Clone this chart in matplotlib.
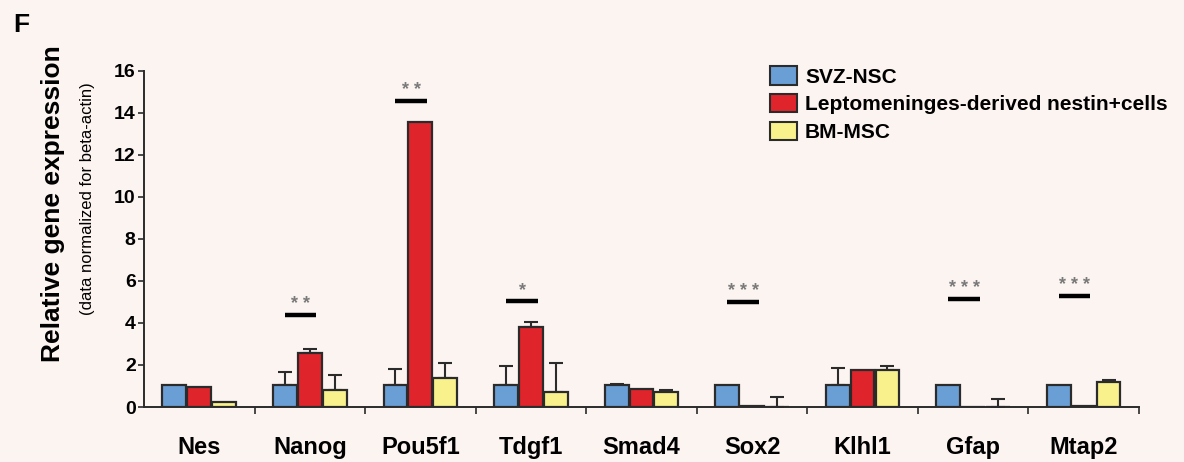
import numpy as np
import matplotlib.pyplot as plt
from matplotlib.patches import Patch

genes = ["Nes", "Nanog", "Pou5f1", "Tdgf1", "Smad4", "Sox2", "Klhl1", "Gfap", "Mtap2"]
series = ["SVZ-NSC", "Leptomeninges-derived nestin+cells", "BM-MSC"]

svz = [1.03, 1.03, 1.03, 1.03, 1.03, 1.03, 1.03, 1.03, 1.03]
svz_err = [0.0, 0.65, 0.77, 0.92, 0.07, 0.0, 0.84, 0.0, 0.0]
lepto = [0.95, 2.58, 13.58, 3.8, 0.86, 0.03, 1.76, 0.02, 0.03]
lepto_err = [0.0, 0.17, 0.0, 0.25, 0.0, 0.0, 0.0, 0.0, 0.0]
bm = [0.22, 0.8, 1.37, 0.72, 0.72, 0.0, 1.76, 0.0, 1.18]
bm_err = [0.0, 0.72, 0.71, 1.38, 0.08, 0.5, 0.19, 0.4, 0.1]

# significance bars: gene index, height, stars
sig_idx = [1, 2, 3, 5, 7, 8]
sig_y = [4.38, 14.55, 5.05, 5.0, 5.14, 5.28]
sig_stars = ["**", "**", "*", "***", "***", "***"]

colors = ["#6a9fd6", "#e0242c", "#f8f18c"]
edge = "#2b2b2b"
bg = "#fcf4f1"

plt.rc('font', family=['Liberation Sans', 'DejaVu Sans'], weight='bold')

fig = plt.figure(figsize=(11.84, 4.62), dpi=100, facecolor=bg)
ax = fig.add_axes([0.1216, 0.119, 0.8404, 0.728])
ax.set_facecolor(bg)

x = np.arange(len(genes))
w = 0.215
for k, (vals, errs) in enumerate([(svz, svz_err), (lepto, lepto_err), (bm, bm_err)]):
    pos = x + (k - 1) * (w + 0.01)
    ax.bar(pos, vals, w, color=colors[k], edgecolor=edge, linewidth=1.6, zorder=2)
    e = np.array(errs)
    m = e > 0
    ax.errorbar(pos[m], np.array(vals)[m], yerr=[np.zeros(m.sum()), e[m]], fmt='none',
                ecolor=edge, elinewidth=1.5, capsize=5, capthick=1.5, zorder=1)

for i, yv, s in zip(sig_idx, sig_y, sig_stars):
    ax.plot([i - 0.225, i + 0.06], [yv, yv], color='black', lw=3.2, solid_capstyle='butt', zorder=3)
    ax.text(i - 0.08, yv + 0.1, " ".join(s), ha='center', va='bottom', fontsize=13,
            color='#7a7a7a', zorder=3)

ax.set_xlim(-0.5, 8.5)
ax.set_ylim(0, 16)
ax.set_yticks(range(0, 17, 2))
ax.tick_params(axis='y', labelsize=14, length=4, width=1.2, color=edge, pad=2)
ax.set_xticks(x)
ax.set_xticklabels(genes, fontsize=17)
ax.tick_params(axis='x', length=0, pad=21)
ax.set_xticks(np.arange(0.5, 8.6, 1), minor=True)
ax.tick_params(axis='x', which='minor', length=5, width=1.2, color=edge, direction='out')
for sp in ['top', 'right']:
    ax.spines[sp].set_visible(False)
for sp in ['left', 'bottom']:
    ax.spines[sp].set_linewidth(1.4)
    ax.spines[sp].set_color(edge)

fig.text(0.045, 0.56, "Relative gene expression", rotation=90, ha='center', va='center',
         fontsize=19, fontweight='bold')
fig.text(0.074, 0.57, "(data normalized for beta-actin)", rotation=90, ha='center', va='center',
         fontsize=12, fontweight='normal')
fig.text(0.011, 0.945, "F", fontsize=19, fontweight='bold', ha='left', va='center')

handles = [Patch(facecolor=c, edgecolor=edge, linewidth=1.5) for c in colors]
fig.legend(handles, series, loc='upper left', bbox_to_anchor=(0.643, 0.875), frameon=False,
           fontsize=15, handlelength=1.3, handleheight=1.0, handletextpad=0.4, labelspacing=0.35,
           borderaxespad=0)

fig.savefig("out.png", dpi=100, facecolor=bg)
